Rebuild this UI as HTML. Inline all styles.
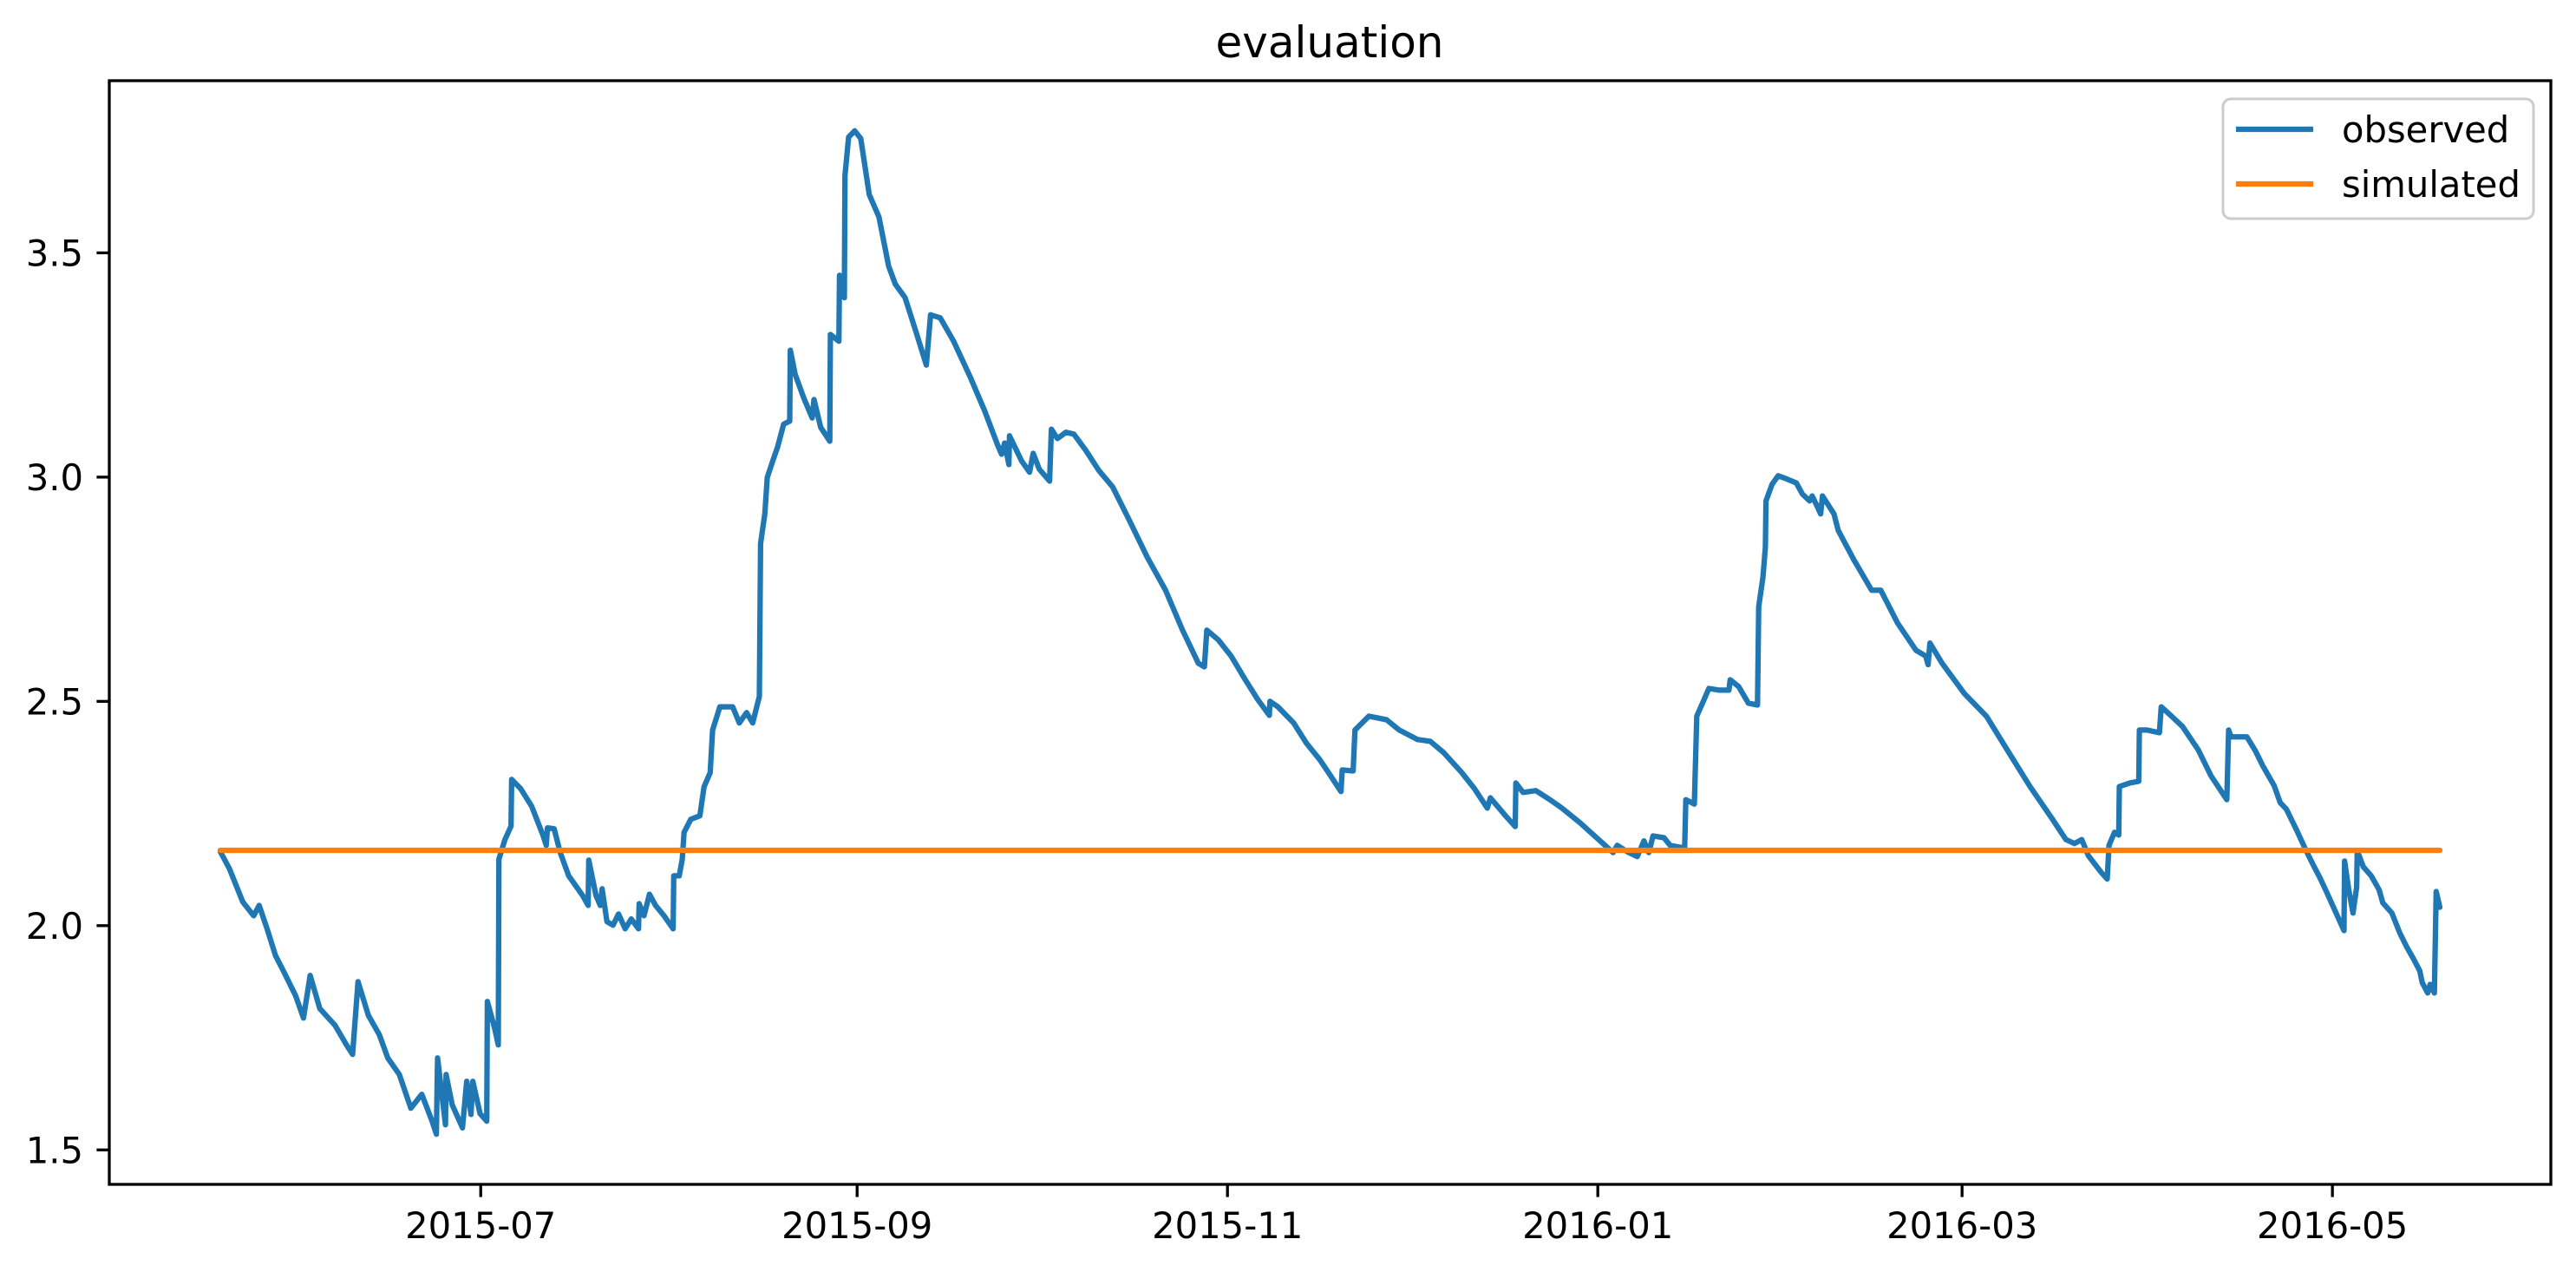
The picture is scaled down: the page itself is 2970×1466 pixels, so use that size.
<!DOCTYPE html>
<html><head><meta charset="utf-8">
<style>
html,body{margin:0;padding:0;background:#fff;}
svg{display:block;font-family:"DejaVu Sans","Liberation Sans",sans-serif;}
</style></head>
<body>
<svg id="chart" width="2970" height="1466" viewBox="0 0 2970 1466" xmlns="http://www.w3.org/2000/svg">
<rect x="0" y="0" width="2970" height="1466" fill="#fff"/>
<text x="1533" y="66" font-size="50" text-anchor="middle" fill="#000">evaluation</text>
<g id="plot"></g>
<g id="axes"></g>
<g>
<rect x="2563" y="114" width="358" height="138" rx="9" fill="#fff" fill-opacity="0.8" stroke="#cccccc" stroke-width="3"/>
<g>
<line x1="2578" y1="149" x2="2667" y2="149" stroke="#1f77b4" stroke-width="6.25"/>
<text x="2700" y="164" font-size="41.7" fill="#000">observed</text>
</g>
<g>
<line x1="2578" y1="212" x2="2667" y2="212" stroke="#ff7f0e" stroke-width="6.25"/>
<text x="2700" y="227" font-size="41.7" fill="#000">simulated</text>
</g>
</g>
</svg>
<script>
// day offsets relative to 2015-07-01
const obsDays = [-42.9,-41.4,-39.2,-37.4,-36.5,-35.2,-33.8,-32.4,-30.5,-29.2,-28.1,-26.5,-24.0,-22.1,-21.1,-20.2,-18.5,-16.7,-15.3,-13.4,-11.5,-9.7,-8.0,-7.3,-7.1,-5.8,-5.7,-4.7,-3.0,-2.3,-1.6,-1.3,-0.1,1.0,1.1,2.3,2.9,3.0,4.0,5.0,5.1,6.6,8.4,10.3,10.8,11.0,12.1,13.1,14.5,16.8,17.7,17.8,19.0,19.7,20.0,20.8,21.8,22.7,23.8,24.8,26.0,26.1,26.9,27.8,28.8,30.2,31.7,31.8,32.7,33.2,33.5,34.6,36.1,36.8,37.8,38.2,39.4,41.5,42.6,43.8,44.8,45.9,46.1,46.8,47.2,48.1,48.9,49.9,50.9,51.0,51.8,53.2,54.6,54.9,56.0,57.5,57.6,59.0,59.1,59.9,60.0,60.6,61.6,62.6,64.0,65.6,67.2,68.3,69.9,71.7,73.4,74.1,75.7,77.9,80.7,83.0,85.1,85.8,86.3,87.0,87.1,89.1,90.4,91.0,92.0,93.7,94.0,95.0,96.4,97.7,99.7,101.8,104.1,106.9,109.8,112.8,115.6,118.2,119.2,119.6,121.5,123.6,125.9,128.0,129.9,130.0,131.3,133.9,136.0,138.2,140.0,141.7,141.9,143.7,144.0,146.3,149.2,151.3,154.3,156.4,158.6,161.6,163.7,165.8,166.3,168.8,170.4,170.5,171.7,173.8,176.1,178.1,181.1,184.7,186.5,187.2,189.1,190.5,191.6,192.4,193.1,194.9,195.9,198.3,198.5,199.9,200.3,201.5,202.3,204.0,205.6,205.8,207.2,208.8,210.3,210.5,211.2,211.6,211.7,212.7,213.7,214.9,216.7,217.7,218.9,219.3,220.2,220.7,221.0,222.9,223.6,226.2,229.1,230.6,233.4,236.4,238.0,238.4,238.7,240.7,244.4,248.0,251.7,255.2,258.9,261.1,262.5,263.7,264.8,266.9,267.9,268.2,269.1,269.8,269.9,271.6,273.1,273.2,274.5,276.5,276.8,278.5,280.3,282.9,285.0,287.6,287.9,288.3,290.9,292.3,293.5,295.4,296.4,297.4,299.0,300.6,302.0,303.0,304.1,305.6,306.9,307.0,307.7,308.4,309.0,309.1,310.1,311.4,312.7,313.3,314.8,316.1,317.3,318.4,319.4,319.8,320.7,321.1,321.8,322.1,322.7];
const obsValues = [2.165,2.127,2.053,2.022,2.045,1.993,1.933,1.896,1.844,1.794,1.889,1.815,1.778,1.734,1.713,1.875,1.800,1.757,1.705,1.668,1.593,1.624,1.564,1.535,1.705,1.556,1.668,1.601,1.549,1.653,1.579,1.653,1.581,1.564,1.831,1.771,1.734,2.148,2.192,2.222,2.326,2.305,2.266,2.200,2.179,2.218,2.216,2.163,2.111,2.067,2.045,2.146,2.067,2.045,2.082,2.009,2.001,2.026,1.993,2.015,1.993,2.049,2.022,2.070,2.045,2.022,1.993,2.111,2.111,2.148,2.208,2.237,2.245,2.310,2.341,2.436,2.488,2.488,2.452,2.475,2.452,2.511,2.852,2.918,2.999,3.036,3.067,3.118,3.125,3.283,3.229,3.177,3.132,3.173,3.111,3.080,3.318,3.303,3.450,3.400,3.672,3.758,3.772,3.755,3.63,3.58,3.47,3.43,3.40,3.324,3.250,3.362,3.355,3.303,3.221,3.148,3.073,3.051,3.076,3.028,3.092,3.036,3.011,3.053,3.018,2.991,3.107,3.086,3.100,3.096,3.059,3.015,2.978,2.902,2.821,2.748,2.659,2.585,2.577,2.659,2.637,2.601,2.549,2.504,2.469,2.500,2.488,2.452,2.407,2.370,2.334,2.299,2.347,2.345,2.436,2.467,2.459,2.436,2.415,2.411,2.386,2.341,2.305,2.262,2.285,2.245,2.221,2.318,2.297,2.301,2.281,2.262,2.229,2.185,2.163,2.179,2.163,2.154,2.189,2.163,2.200,2.196,2.179,2.173,2.281,2.271,2.467,2.504,2.529,2.525,2.525,2.548,2.533,2.496,2.492,2.711,2.777,2.844,2.947,2.984,3.003,2.997,2.987,2.962,2.947,2.958,2.933,2.918,2.958,2.918,2.881,2.815,2.748,2.748,2.674,2.614,2.601,2.582,2.630,2.585,2.517,2.467,2.386,2.310,2.237,2.192,2.183,2.192,2.156,2.119,2.104,2.179,2.208,2.202,2.310,2.318,2.322,2.436,2.436,2.430,2.488,2.467,2.444,2.392,2.334,2.281,2.436,2.421,2.421,2.390,2.357,2.312,2.274,2.260,2.216,2.169,2.131,2.105,2.073,2.028,1.989,2.144,2.080,2.028,2.086,2.167,2.131,2.111,2.080,2.051,2.028,1.984,1.951,1.925,1.899,1.873,1.850,1.869,1.850,2.076,2.041];
const simValue = 2.168;
const xTickLabels = ["2015-07","2015-09","2015-11","2016-01","2016-03","2016-05"];
const xTickDays = [0,62,123,184,244,305];
const yTickValues = [1.5,2.0,2.5,3.0,3.5];

const NS = "http://www.w3.org/2000/svg";
const L = 126, R = 2941, T = 93, B = 1365;
const dMin = Math.min(...obsDays), dMax = Math.max(...obsDays);
const dPad = (dMax - dMin) * 0.05;
const allV = obsValues.concat([simValue]);
const vMin = Math.min(...allV), vMax = Math.max(...allV);
const vPad = (vMax - vMin) * 0.05;
function xScale(d){ return L + (d - (dMin - dPad)) / ((dMax + dPad) - (dMin - dPad)) * (R - L); }
function yScale(v){ return B - (v - (vMin - vPad)) / ((vMax + vPad) - (vMin - vPad)) * (B - T); }
function mk(tag, attrs){ const e = document.createElementNS(NS, tag); for (const k in attrs) e.setAttribute(k, attrs[k]); return e; }

const plot = document.getElementById('plot');
const axes = document.getElementById('axes');

let d = "";
obsDays.forEach((day, i) => { d += (i ? "L" : "M") + xScale(day).toFixed(1) + " " + yScale(obsValues[i]).toFixed(1); });
const obs = mk('path', {d: d, fill: 'none', stroke: '#1f77b4', 'stroke-width': 6.25, 'stroke-linejoin': 'round', 'stroke-linecap': 'round'});


plot.appendChild(obs);

const sim = mk('line', {x1: xScale(dMin), x2: xScale(dMax), y1: yScale(simValue), y2: yScale(simValue), stroke: '#ff7f0e', 'stroke-width': 6.25, 'stroke-linecap': 'round'});


plot.appendChild(sim);

const frame = mk('rect', {x: L, y: T, width: R - L, height: B - T, fill: 'none', stroke: '#000', 'stroke-width': 3.3});


axes.appendChild(frame);

xTickDays.forEach((day, i) => {
  const x = xScale(day);
  const t = mk('line', {x1: x, x2: x, y1: B, y2: B + 14.6, stroke: '#000', 'stroke-width': 3.3});
  
  
  axes.appendChild(t);
  const lb = mk('text', {x: x, y: B + 62, 'font-size': 41.7, 'text-anchor': 'middle', fill: '#000'});
  lb.textContent = xTickLabels[i];
  
  
  axes.appendChild(lb);
});
yTickValues.forEach((v) => {
  const y = yScale(v);
  const t = mk('line', {x1: L - 14.6, x2: L, y1: y, y2: y, stroke: '#000', 'stroke-width': 3.3});
  
  
  axes.appendChild(t);
  const lb = mk('text', {x: L - 30, y: y + 15, 'font-size': 41.7, 'text-anchor': 'end', fill: '#000'});
  lb.textContent = v.toFixed(1);
  
  
  axes.appendChild(lb);
});
</script>
</body></html>
